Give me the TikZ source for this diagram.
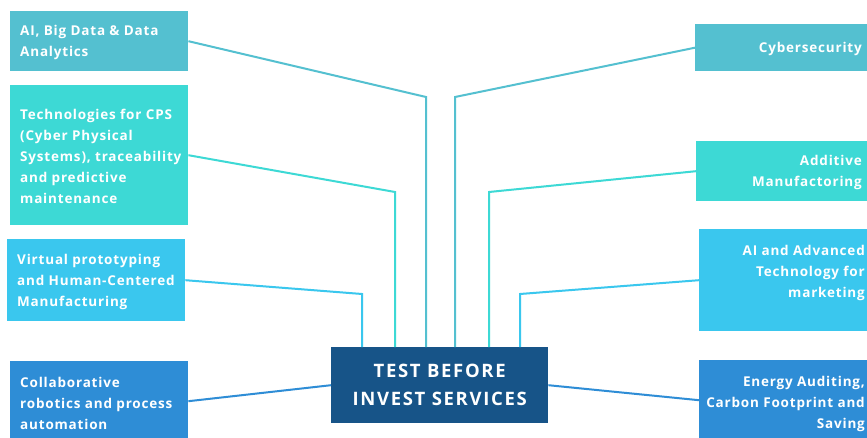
\documentclass[tikz,border=0pt]{standalone}
\usepackage{fontspec}
\setmainfont{Open Sans}
\newfontfamily\boxfont[LetterSpace=6]{Open Sans}
\newfontfamily\hubfont[LetterSpace=9]{Open Sans}
\definecolor{cTeal}{HTML}{54C0D0}
\definecolor{cTurq}{HTML}{3DD9D5}
\definecolor{cSky}{HTML}{3AC7EE}
\definecolor{cBlue}{HTML}{2E8DD6}
\definecolor{cHub}{HTML}{175488}
\tikzset{
  box/.style={draw=none, rectangle, inner sep=0pt, anchor=north west},
  lbl/.style={text=white, font=\boxfont\fontsize{13.5}{21}\selectfont\bfseries, inner sep=0pt, yshift=-1.5pt},
  lblL/.style={lbl, align=left, anchor=west},
  lblR/.style={lbl, align=right, anchor=east},
  link/.style={line width=2pt, line join=miter},
}
\begin{document}
\begin{tikzpicture}[x=1pt, y=-1pt]
\clip (0,0) rectangle (867,438);
\fill[white] (0,0) rectangle (867,438);

% left column
\node[box, fill=cTeal, minimum width=178, minimum height=60] (l1) at (10,11) {};
\node[box, fill=cTurq, minimum width=178, minimum height=140] (l2) at (10,85) {};
\node[box, fill=cSky,  minimum width=178, minimum height=82] (l3) at (7,239) {};
\node[box, fill=cBlue, minimum width=178, minimum height=80] (l4) at (10,361) {};

% right column
\node[box, fill=cTeal, minimum width=180, minimum height=47] (r1) at (695,24) {};
\node[box, fill=cTurq, minimum width=180, minimum height=60] (r2) at (696,141) {};
\node[box, fill=cSky,  minimum width=180, minimum height=102] (r3) at (699,229) {};
\node[box, fill=cBlue, minimum width=180, minimum height=80] (r4) at (699,360) {};

% central hub
\node[box, fill=cHub, minimum width=217, minimum height=76] (hub) at (331,347) {};
\node[text=white, font=\hubfont\fontsize{18.5}{28}\selectfont\bfseries, align=center, inner sep=0pt] (hubt) at (hub.center) {TEST BEFORE\\INVEST SERVICES};

% labels
\node[lblL] (t1) at (20,41) {AI, Big Data \& Data\\Analytics};
\node[lblL] (t2) at (20,155) {Technologies for CPS\\(Cyber Physical\\Systems), traceability\\and predictive\\maintenance};
\node[lblL] (t3) at (17,280) {Virtual prototyping\\and Human-Centered\\Manufacturing};
\node[lblL] (t4) at (20,402) {Collaborative\\robotics and process\\automation};
\node[lblR] (u1) at (862,47) {Cybersecurity};
\node[lblR] (u2) at (862,171) {Additive\\Manufactoring};
\node[lblR] (u3) at (865,271) {AI and Advanced\\Technology for\\marketing};
\node[lblR] (u4) at (865,402) {Energy Auditing,\\Carbon Footprint and\\Saving};

% bends of the connectors
\coordinate (k1) at (426,97);
\coordinate (k2) at (395,192);
\coordinate (k3) at (362,294);
\coordinate (m1) at (455,97);
\coordinate (m2) at (489,192);
\coordinate (m3) at (520,294);

% connectors
\draw[link, cTeal] (l1.east) -- (k1) -- (k1 |- hub.north);
\draw[link, cTurq] (l2.east) -- (k2) -- (k2 |- hub.north);
\draw[link, cSky]  (l3.east) -- (k3) -- (k3 |- hub.north);
\draw[link, cBlue] (l4.east) -- (hub.west);
\draw[link, cTeal] (r1.west) -- (m1) -- (m1 |- hub.north);
\draw[link, cTurq] (r2.west) -- (m2) -- (m2 |- hub.north);
\draw[link, cSky]  (r3.west) -- (m3) -- (m3 |- hub.north);
\draw[link, cBlue] (r4.west) -- (hub.east);
\end{tikzpicture}
\end{document}
